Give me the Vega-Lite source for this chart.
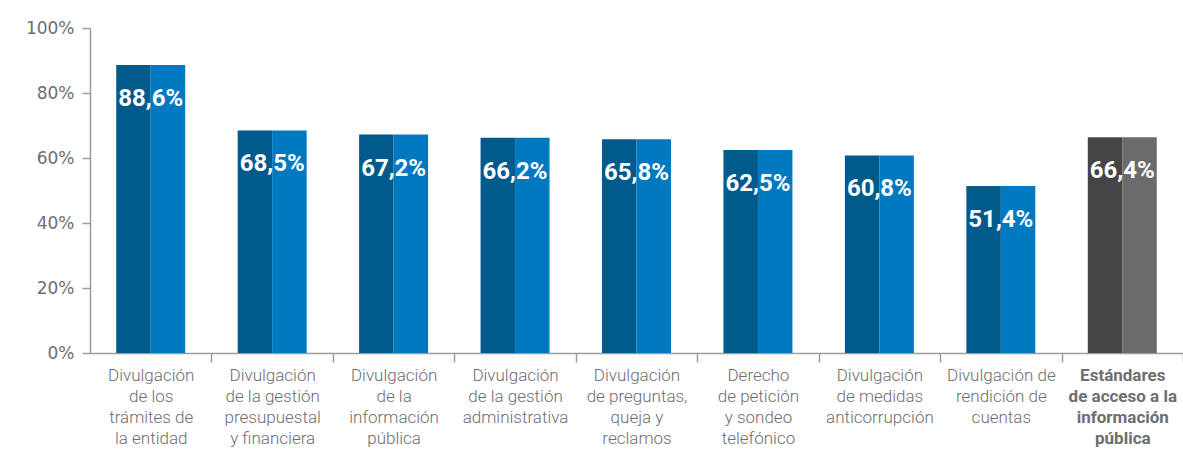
{
  "$schema": "https://vega.github.io/schema/vega-lite/v6.json",
  "autosize": "none",
  "width": 1093,
  "height": 325,
  "padding": {"left": 90, "top": 28, "right": 0, "bottom": 103},
  "background": "white",
  "config": {"view": {"stroke": null}},
  "data": {
    "values": [
      {"categoria": "Divulgación|de los|trámites de|la entidad", "mitad": "a", "tono": "azul oscuro", "valor": 88.6},
      {"categoria": "Divulgación|de los|trámites de|la entidad", "mitad": "b", "tono": "azul claro", "valor": 88.6},
      {"categoria": "Divulgación|de la gestión|presupuestal|y financiera", "mitad": "a", "tono": "azul oscuro", "valor": 68.5},
      {"categoria": "Divulgación|de la gestión|presupuestal|y financiera", "mitad": "b", "tono": "azul claro", "valor": 68.5},
      {"categoria": "Divulgación|de la|información|pública", "mitad": "a", "tono": "azul oscuro", "valor": 67.2},
      {"categoria": "Divulgación|de la|información|pública", "mitad": "b", "tono": "azul claro", "valor": 67.2},
      {"categoria": "Divulgación|de la gestión|administrativa", "mitad": "a", "tono": "azul oscuro", "valor": 66.2},
      {"categoria": "Divulgación|de la gestión|administrativa", "mitad": "b", "tono": "azul claro", "valor": 66.2},
      {"categoria": "Divulgación|de preguntas,|queja y|reclamos", "mitad": "a", "tono": "azul oscuro", "valor": 65.8},
      {"categoria": "Divulgación|de preguntas,|queja y|reclamos", "mitad": "b", "tono": "azul claro", "valor": 65.8},
      {"categoria": "Derecho|de petición|y sondeo|telefónico", "mitad": "a", "tono": "azul oscuro", "valor": 62.5},
      {"categoria": "Derecho|de petición|y sondeo|telefónico", "mitad": "b", "tono": "azul claro", "valor": 62.5},
      {"categoria": "Divulgación|de medidas|anticorrupción", "mitad": "a", "tono": "azul oscuro", "valor": 60.8},
      {"categoria": "Divulgación|de medidas|anticorrupción", "mitad": "b", "tono": "azul claro", "valor": 60.8},
      {"categoria": "Divulgación de|rendición de|cuentas", "mitad": "a", "tono": "azul oscuro", "valor": 51.4},
      {"categoria": "Divulgación de|rendición de|cuentas", "mitad": "b", "tono": "azul claro", "valor": 51.4},
      {"categoria": "Estándares|de acceso a la|información|pública", "mitad": "a", "tono": "gris oscuro", "valor": 66.4},
      {"categoria": "Estándares|de acceso a la|información|pública", "mitad": "b", "tono": "gris claro", "valor": 66.4}
    ]
  },
  "layer": [
    {
      "mark": {"type": "bar"},
      "encoding": {
        "x": {
          "field": "categoria",
          "type": "nominal",
          "sort": null,
          "scale": {"paddingInner": 0.432, "paddingOuter": 0.216},
          "axis": {
            "title": null,
            "labelAngle": 0,
            "labelExpr": "split(datum.label, '|')",
            "labelFont": "Roboto",
            "labelFontSize": 17,
            "labelLineHeight": 21,
            "labelColor": "#6d6e71",
            "labelFontWeight": {"condition": {"test": "indexof(datum.value, 'Estándares') == 0", "value": "bold"}, "value": 300},
            "labelPadding": 5,
            "tickSize": 9,
            "tickOffset": 60.72,
            "labelOffset": -60.72,
            "tickColor": "#9d9d9d",
            "tickWidth": 1.5,
            "domainColor": "#9d9d9d",
            "domainWidth": 1.5,
            "labelLimit": 200
          }
        },
        "y": {
          "field": "valor",
          "type": "quantitative",
          "stack": null,
          "scale": {"domain": [0, 100], "nice": false},
          "axis": {
            "title": null,
            "values": [0, 20, 40, 60, 80, 100],
            "labelExpr": "datum.value + '%'",
            "grid": false,
            "labelFont": "DejaVu Sans",
            "labelFontSize": 17,
            "labelColor": "#6d6e71",
            "labelPadding": 8,
            "tickSize": 8,
            "tickColor": "#9d9d9d",
            "tickWidth": 1.5,
            "domainColor": "#9d9d9d",
            "domainWidth": 1.5
          }
        },
        "xOffset": {"field": "mitad", "type": "nominal", "scale": {"paddingInner": 0, "paddingOuter": 0}},
        "color": {
          "field": "tono",
          "type": "nominal",
          "scale": {"domain": ["azul oscuro", "azul claro", "gris oscuro", "gris claro"], "range": ["#005a8c", "#0079c1", "#454547", "#6b6b6e"]},
          "legend": null
        }
      }
    },
    {
      "transform": [
        {"filter": "datum.mitad == 'a'"},
        {"calculate": "replace(format(datum.valor, '.1f'), '.', ',') + '%'", "as": "etiqueta"}
      ],
      "mark": {"type": "text", "font": "Roboto", "fontWeight": "bold", "fontSize": 24, "color": "white", "baseline": "middle", "align": "center", "dy": 34},
      "encoding": {
        "x": {"field": "categoria", "type": "nominal", "sort": null},
        "y": {"field": "valor", "type": "quantitative"},
        "text": {"field": "etiqueta"}
      }
    }
  ]
}
